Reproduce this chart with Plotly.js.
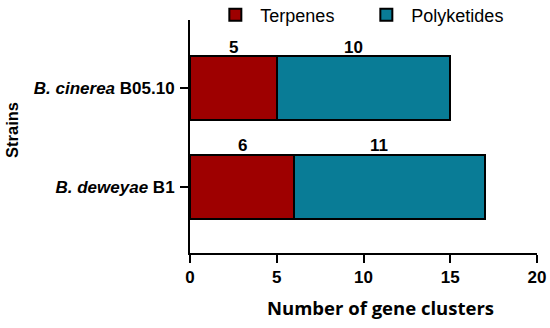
<!DOCTYPE html>
<html><head><meta charset="utf-8">
<script src="https://cdn.plot.ly/plotly-3.0.1.min.js"></script>
<style>html,body{margin:0;padding:0;background:#fff}</style>
</head><body><div id="chart" style="width:550px;height:328px"></div>
<script>
const strains = ['<i>B. deweyae</i> B1', '<i>B. cinerea</i> B05.10'];
const terpenes = [6, 5];
const polyketides = [11, 10];
const xTicks = [0, 5, 10, 15, 20];

const FONT = 'Liberation Sans, Arial, sans-serif';
const lineStyle = {color: '#000', width: 2};

const traces = [
  {type: 'bar', orientation: 'h', name: 'Terpenes', y: strains, x: terpenes,
   marker: {color: '#9E0000', line: lineStyle}, width: 0.64, hoverinfo: 'none'},
  {type: 'bar', orientation: 'h', name: 'Polyketides', y: strains, x: polyketides,
   marker: {color: '#097C96', line: lineStyle}, width: 0.64, hoverinfo: 'none'}
];

const annotations = [];
strains.forEach((s, i) => {
  annotations.push({x: terpenes[i] / 2, y: s, yref: 'y', xref: 'x', text: '<b>' + terpenes[i] + '</b>',
    showarrow: false, yshift: 41, font: {family: FONT, size: 17, color: '#000'}});
  annotations.push({x: terpenes[i] + polyketides[i] / 2 - 0.6, y: s, yref: 'y', xref: 'x', text: '<b>' + polyketides[i] + '</b>',
    showarrow: false, yshift: 41, font: {family: FONT, size: 17, color: '#000'}});
});
annotations.push({xref: 'paper', yref: 'paper', x: 0.548, y: -0.236, xanchor: 'center', yanchor: 'middle',
  text: '<b>Number of gene clusters</b>', showarrow: false,
  font: {family: 'Open Sans, sans-serif', size: 18.5, color: '#000'}});
annotations.push({xref: 'paper', yref: 'paper', x: -0.513, xanchor: 'center', y: 0.528, yanchor: 'middle',
  text: '<b>Strains</b>', showarrow: false, textangle: -90,
  font: {family: FONT, size: 16.5, color: '#000'}});

const layout = {
  width: 550, height: 328,
  margin: {l: 190, r: 13, t: 20, b: 75, autoexpand: false},
  barmode: 'stack',
  paper_bgcolor: '#fff', plot_bgcolor: '#fff',
  showlegend: true,
  legend: {orientation: 'h', x: 0.0586, xanchor: 'left', y: 1.021, yanchor: 'middle',
    font: {family: FONT, size: 18, color: '#000'}, itemwidth: 40, traceorder: 'normal',
    entrywidth: 96, entrywidthmode: 'pixels',
    bgcolor: 'rgba(0,0,0,0)'},
  xaxis: {range: [0, 20], tickvals: xTicks, ticktext: xTicks.map(String),
    showline: true, linecolor: '#000', linewidth: 2, ticks: 'outside', ticklen: 8, tickwidth: 2, tickcolor: '#000',
    showgrid: false, zeroline: false, fixedrange: true,
    tickfont: {family: FONT, size: 17, color: '#000', weight: 'bold'}},
  yaxis: {range: [-0.667, 1.687], showline: true, linecolor: '#000', linewidth: 2,
    ticks: 'outside', ticklen: 8, tickwidth: 2, tickcolor: '#000', showgrid: false, zeroline: false,
    tickfont: {family: FONT, size: 17, color: '#000', weight: 'bold'}, ticklabelstandoff: 2},
  annotations: annotations
};
Plotly.newPlot('chart', traces, layout, {staticPlot: true});
</script></body></html>
